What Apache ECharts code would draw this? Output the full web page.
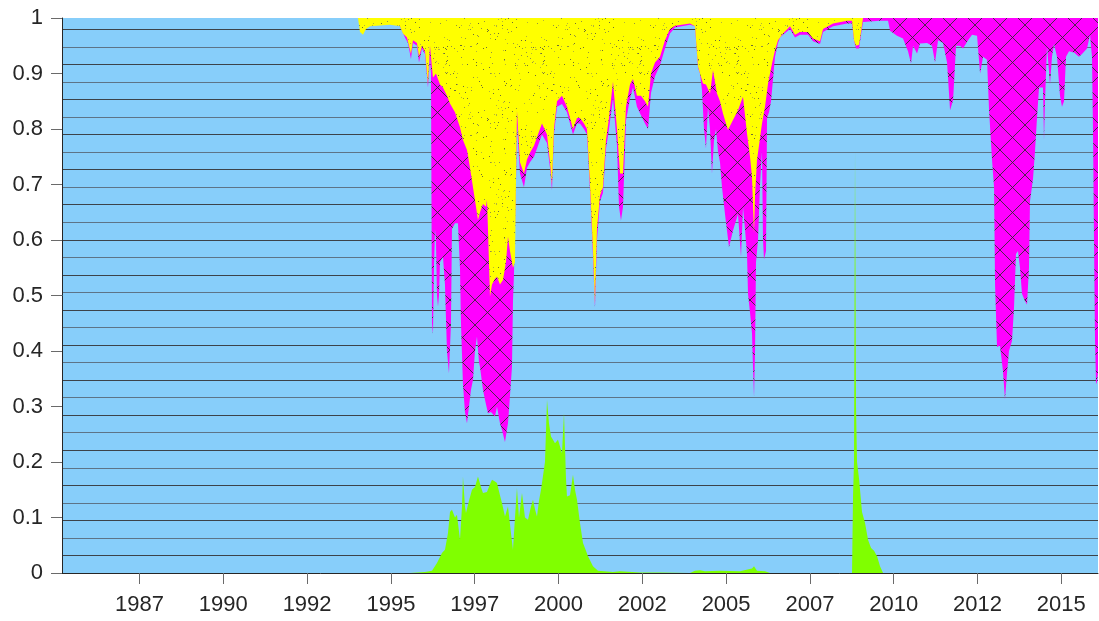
<!DOCTYPE html>
<html><head><meta charset="utf-8">
<script src="https://cdn.jsdelivr.net/npm/echarts@6/dist/echarts.min.js"></script>
<style>html,body{margin:0;padding:0;background:#fff}#c{width:1099px;height:621px}</style>
</head><body><div id="c"></div>
<script>
// ---- data (fractional years, shares) ----
const xTickValues = [1987.5, 1990, 1992.5, 1995, 1997.5, 2000, 2002.5, 2005, 2007.5, 2010, 2012.5, 2015];
const xTickLabels = ['1987','1990','1992','1995','1997','2000','2002','2005','2007','2010','2012','2015'];

// green band (bottom), share from 0
const greenYears = [1985.188,1995.569,1996.017,1996.226,1996.375,1996.524,1996.613,1996.703,1996.763,1996.822,1996.912,1996.971,1997.061,1997.121,1997.150,1997.210,1997.240,1997.329,1997.419,1997.508,1997.598,1997.687,1997.747,1997.866,1997.956,1998.016,1998.105,1998.165,1998.254,1998.314,1998.403,1998.493,1998.582,1998.642,1998.702,1998.761,1998.821,1998.911,1999.000,1999.090,1999.179,1999.239,1999.299,1999.358,1999.418,1999.478,1999.537,1999.597,1999.657,1999.716,1999.776,1999.836,1999.895,1999.985,2000.104,2000.164,2000.224,2000.253,2000.343,2000.432,2000.492,2000.552,2000.641,2000.731,2000.820,2000.880,2001.029,2001.178,2001.626,2001.835,2002.431,2003.028,2003.923,2004.072,2004.221,2004.371,2004.818,2005.415,2005.773,2005.833,2005.922,2006.161,2006.310,2008.697,2008.757,2008.787,2008.816,2008.846,2008.876,2008.906,2008.966,2009.055,2009.145,2009.234,2009.324,2009.413,2009.503,2009.592,2009.682,2016.095];
const greenShare = [0,0,0.002,0.004,0.018,0.036,0.042,0.072,0.11,0.114,0.10,0.105,0.06,0.12,0.174,0.12,0.108,0.13,0.15,0.155,0.174,0.155,0.144,0.146,0.16,0.168,0.165,0.162,0.14,0.126,0.102,0.12,0.072,0.042,0.10,0.153,0.10,0.144,0.10,0.096,0.12,0.132,0.115,0.102,0.13,0.15,0.15,0.2,0.312,0.27,0.246,0.24,0.234,0.24,0.216,0.288,0.17,0.138,0.14,0.177,0.15,0.132,0.09,0.054,0.04,0.03,0.012,0.004,0.002,0.003,0.001,0.001,0,0.004,0.005,0.003,0.004,0.003,0.008,0.012,0.004,0.003,0,0,0,0.14,0.2,0.76,0.3,0.2,0.17,0.11,0.09,0.06,0.045,0.04,0.03,0.012,0,0];

// magenta band: lower edge (band reaches up to 1, yellow is drawn over its upper part)
const magentaYears = [1985.188,1995.122,1995.271,1995.420,1995.510,1995.599,1995.659,1995.778,1995.838,1995.927,1996.017,1996.106,1996.166,1996.196,1996.226,1996.255,1996.285,1996.315,1996.345,1996.375,1996.405,1996.435,1996.464,1996.554,1996.613,1996.673,1996.733,1996.792,1996.822,1996.912,1997.001,1997.061,1997.091,1997.150,1997.210,1997.270,1997.329,1997.389,1997.449,1997.508,1997.568,1997.628,1997.658,1997.747,1997.807,1997.896,1997.986,1998.105,1998.165,1998.254,1998.314,1998.403,1998.493,1998.553,1998.612,1998.642,1998.672,1998.731,1998.761,1998.851,1998.970,1999.060,1999.149,1999.269,1999.388,1999.507,1999.657,1999.746,1999.806,1999.865,1999.955,2000.104,2000.253,2000.432,2000.552,2000.641,2000.760,2000.850,2000.939,2001.029,2001.088,2001.148,2001.238,2001.327,2001.417,2001.506,2001.626,2001.745,2001.805,2001.864,2001.924,2002.013,2002.133,2002.222,2002.341,2002.461,2002.580,2002.670,2002.759,2002.879,2003.028,2003.177,2003.326,2003.476,2003.923,2004.072,2004.162,2004.221,2004.281,2004.341,2004.400,2004.460,2004.520,2004.579,2004.639,2004.699,2004.758,2004.818,2004.878,2004.967,2005.087,2005.206,2005.355,2005.445,2005.504,2005.564,2005.624,2005.654,2005.713,2005.773,2005.803,2005.833,2005.863,2005.892,2005.952,2006.012,2006.071,2006.101,2006.131,2006.191,2006.221,2006.280,2006.340,2006.400,2006.459,2006.549,2006.609,2006.698,2006.907,2007.056,2007.205,2007.444,2007.593,2007.802,2007.892,2008.190,2008.608,2008.757,2008.816,2008.876,2008.966,2009.025,2009.085,2009.592,2009.831,2009.891,2010.099,2010.278,2010.427,2010.517,2010.577,2010.696,2010.786,2010.995,2011.144,2011.233,2011.323,2011.472,2011.592,2011.681,2011.771,2011.860,2011.980,2012.069,2012.218,2012.338,2012.487,2012.577,2012.666,2012.785,2012.845,2012.934,2012.994,2013.024,2013.083,2013.171,2013.260,2013.320,2013.380,2013.439,2013.529,2013.589,2013.648,2013.708,2013.768,2013.828,2013.917,2013.977,2014.036,2014.066,2014.156,2014.215,2014.275,2014.335,2014.454,2014.484,2014.514,2014.573,2014.663,2014.722,2014.782,2014.872,2014.961,2015.021,2015.081,2015.140,2015.230,2015.379,2015.528,2015.618,2015.767,2015.857,2015.916,2015.946,2015.976,2016.006,2016.036,2016.066,2016.095];
const magentaLowerEdge = [1,1,0.985,0.965,0.955,0.926,0.955,0.95,0.92,0.945,0.935,0.875,0.93,0.90,0.45,0.43,0.55,0.62,0.60,0.50,0.48,0.50,0.56,0.57,0.52,0.40,0.36,0.45,0.62,0.63,0.63,0.55,0.45,0.34,0.29,0.27,0.30,0.33,0.348,0.40,0.426,0.38,0.371,0.33,0.312,0.288,0.29,0.282,0.30,0.27,0.258,0.236,0.27,0.32,0.371,0.49,0.54,0.70,0.81,0.72,0.695,0.73,0.74,0.75,0.77,0.79,0.775,0.73,0.69,0.79,0.84,0.845,0.83,0.79,0.81,0.81,0.80,0.79,0.69,0.57,0.478,0.60,0.67,0.685,0.765,0.80,0.855,0.77,0.66,0.635,0.66,0.815,0.855,0.875,0.84,0.825,0.81,0.80,0.865,0.895,0.915,0.945,0.972,0.983,0.988,0.985,0.91,0.90,0.87,0.80,0.765,0.84,0.80,0.72,0.78,0.80,0.76,0.74,0.695,0.647,0.587,0.617,0.647,0.57,0.66,0.62,0.575,0.503,0.47,0.432,0.37,0.317,0.40,0.56,0.60,0.70,0.76,0.60,0.565,0.58,0.82,0.83,0.85,0.89,0.93,0.955,0.965,0.97,0.98,0.965,0.97,0.97,0.958,0.953,0.975,0.985,0.99,0.99,0.96,0.945,0.945,0.97,0.993,0.995,0.995,0.977,0.968,0.963,0.94,0.918,0.95,0.936,0.954,0.955,0.95,0.92,0.96,0.955,0.92,0.834,0.852,0.95,0.95,0.945,0.96,0.97,0.968,0.90,0.93,0.925,0.834,0.744,0.695,0.52,0.407,0.41,0.364,0.313,0.36,0.40,0.418,0.478,0.575,0.58,0.55,0.503,0.49,0.484,0.55,0.67,0.71,0.76,0.82,0.875,0.875,0.78,0.85,0.95,0.88,0.93,0.953,0.93,0.86,0.84,0.85,0.93,0.94,0.938,0.93,0.935,0.945,0.97,0.93,0.80,0.60,0.42,0.34,0.345,0.36];

// yellow band (top): lower edge
const yellowYears = [1985.188,1994.018,1994.078,1994.167,1994.257,1994.376,1994.973,1995.271,1995.360,1995.480,1995.599,1995.659,1995.778,1995.838,1995.927,1996.017,1996.106,1996.166,1996.196,1996.255,1996.345,1996.464,1996.554,1996.673,1996.763,1996.912,1997.061,1997.150,1997.270,1997.359,1997.449,1997.538,1997.598,1997.658,1997.747,1997.837,1997.866,1997.896,1997.956,1998.016,1998.105,1998.165,1998.254,1998.344,1998.433,1998.493,1998.553,1998.642,1998.702,1998.731,1998.761,1998.851,1998.970,1999.060,1999.149,1999.269,1999.388,1999.507,1999.657,1999.746,1999.806,1999.865,1999.955,2000.104,2000.253,2000.432,2000.552,2000.641,2000.760,2000.850,2000.939,2001.029,2001.088,2001.148,2001.238,2001.327,2001.417,2001.506,2001.626,2001.745,2001.835,2001.924,2002.013,2002.133,2002.222,2002.341,2002.461,2002.580,2002.670,2002.759,2002.879,2003.028,2003.177,2003.326,2003.476,2003.923,2004.072,2004.162,2004.221,2004.311,2004.400,2004.520,2004.609,2004.728,2004.818,2004.907,2005.056,2005.206,2005.355,2005.504,2005.624,2005.713,2005.773,2005.833,2005.863,2005.922,2006.071,2006.161,2006.251,2006.370,2006.459,2006.549,2006.698,2006.907,2007.056,2007.205,2007.444,2007.593,2007.802,2007.892,2008.190,2008.608,2008.757,2008.816,2008.876,2008.966,2009.025,2009.085,2016.095];
const yellowLowerEdge = [1,1,0.975,0.97,0.98,0.985,0.988,0.985,0.972,0.965,0.935,0.96,0.955,0.93,0.95,0.94,0.882,0.95,0.93,0.893,0.90,0.88,0.875,0.86,0.846,0.83,0.803,0.78,0.762,0.73,0.695,0.66,0.636,0.65,0.665,0.66,0.672,0.62,0.498,0.52,0.53,0.534,0.52,0.528,0.56,0.606,0.58,0.55,0.56,0.70,0.833,0.74,0.72,0.745,0.757,0.77,0.79,0.81,0.79,0.74,0.70,0.80,0.85,0.86,0.84,0.80,0.82,0.82,0.81,0.80,0.70,0.58,0.485,0.62,0.68,0.695,0.78,0.82,0.885,0.80,0.72,0.72,0.84,0.88,0.89,0.86,0.86,0.85,0.84,0.90,0.92,0.93,0.96,0.98,0.986,0.99,0.985,0.912,0.91,0.882,0.88,0.864,0.906,0.864,0.85,0.828,0.798,0.816,0.834,0.858,0.792,0.75,0.714,0.612,0.68,0.744,0.81,0.84,0.882,0.918,0.942,0.96,0.972,0.985,0.97,0.975,0.975,0.963,0.958,0.98,0.99,0.995,0.995,0.96,0.95,0.952,0.975,1,1];

// ---- textures ----
function crossHatch() {
  const c = document.createElement('canvas'); c.width = 25; c.height = 25;
  const g = c.getContext('2d');
  g.fillStyle = '#ff00ff'; g.fillRect(0, 0, 25, 25);
  g.strokeStyle = 'rgba(45,45,45,0.85)'; g.lineWidth = 1;
  g.beginPath(); g.moveTo(-2, -2); g.lineTo(27, 27); g.moveTo(27, -2); g.lineTo(-2, 27); g.stroke();
  return c;
}
function speckle() {
  const w = 97, h = 89;
  const c = document.createElement('canvas'); c.width = w; c.height = h;
  const g = c.getContext('2d');
  g.fillStyle = '#ffff00'; g.fillRect(0, 0, w, h);
  const cols = ['#6e6e34', '#94943e', '#5e5e4c', '#b4b438', '#80803a'];
  let s = 12345;
  for (let y = 0; y < h; y++) for (let x = 0; x < w; x++) {
    s = (s * 1103515245 + 12345) & 0x7fffffff;
    if ((s % 1000) < 20) { g.fillStyle = cols[(s >> 4) % cols.length]; g.fillRect(x, y, 1, 1); }
  }
  return c;
}

const zip = (a, b) => a.map((v, i) => [v, b[i]]);
const hatchColors = [];
for (let i = 0; i < 40; i++) hatchColors.push(i % 2 ? '#5d7487' : '#3c4349');

const chart = echarts.init(document.getElementById('c'), null, { renderer: 'canvas' });
const font = "'Liberation Sans', Arial, Helvetica, sans-serif";
chart.setOption({
  animation: false,
  grid: { left: 62, right: 1, top: 18, bottom: 48, show: true, backgroundColor: '#87cefa', borderWidth: 0 },
  xAxis: {
    type: 'value', min: 1985.188, max: 2016.095,
    axisLine: { show: true, lineStyle: { color: '#262626', width: 1 } },
    axisTick: { show: true, customValues: xTickValues, length: 11, lineStyle: { color: '#6a6a6a' } },
    axisLabel: {
      customValues: xTickValues, margin: 21, fontSize: 22, color: '#262626', fontFamily: font,
      formatter: v => { let k = 0; xTickValues.forEach((t, i) => { if (Math.abs(t - v) < Math.abs(xTickValues[k] - v)) k = i; }); return xTickLabels[k]; }
    },
    splitLine: { show: false }
  },
  yAxis: [{
    type: 'value', min: 0, max: 1, interval: 0.1,
    axisLine: { show: true, lineStyle: { color: '#262626', width: 1 } },
    axisTick: { show: true, length: 11, lineStyle: { color: '#6a6a6a' } },
    axisLabel: { margin: 19, fontSize: 22, color: '#262626', fontFamily: font,
      formatter: v => (Math.abs(v) < 1e-9 ? '0' : Math.abs(v - 1) < 1e-9 ? '1' : v.toFixed(1)) },
    splitLine: { show: false }
  }, {
    type: 'value', min: 0, max: 1, interval: 0.0316, position: 'left',
    axisLine: { show: false }, axisTick: { show: false }, axisLabel: { show: false },
    splitLine: { show: true, showMinLine: false, showMaxLine: false, lineStyle: { color: hatchColors, width: 1 } }
  }],
  series: [
    { type: 'line', data: zip(magentaYears, magentaLowerEdge), showSymbol: false, symbol: 'none',
      lineStyle: { width: 0 }, areaStyle: { origin: 'end', opacity: 1, color: { image: crossHatch(), repeat: 'repeat' } }, z: 2, silent: true },
    { type: 'line', data: zip(yellowYears, yellowLowerEdge), showSymbol: false, symbol: 'none',
      lineStyle: { width: 0 }, areaStyle: { origin: 'end', opacity: 1, color: { image: speckle(), repeat: 'repeat' } }, z: 3, silent: true },
    { type: 'line', data: zip(greenYears, greenShare), showSymbol: false, symbol: 'none',
      lineStyle: { width: 0 }, areaStyle: { origin: 'start', opacity: 1, color: '#80ff00' }, z: 4, silent: true }
  ]
});
</script></body></html>
